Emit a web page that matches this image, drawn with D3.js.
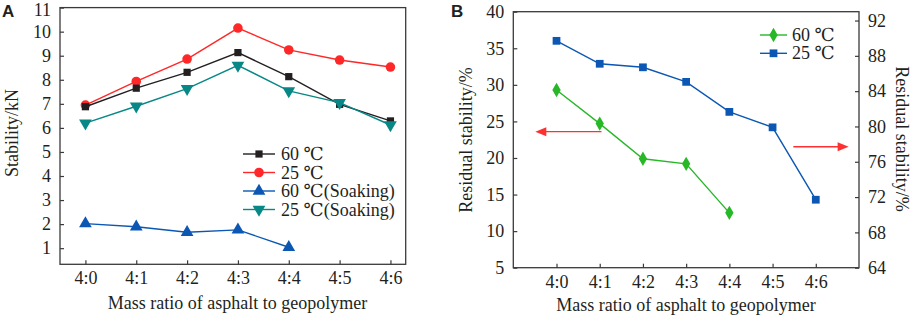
<!DOCTYPE html>
<html>
<head>
<meta charset="utf-8">
<script src="https://cdn.jsdelivr.net/npm/d3@7"></script>
<style>
  body { margin: 0; background: #fff; }
  svg text { font-family: "Liberation Serif", Tinos, "Times New Roman", "DejaVu Serif", serif; fill: #231f20; }
  svg text.panel-label { font-family: "Liberation Sans", Arial, sans-serif; font-weight: bold; }
</style>
</head>
<body>
<svg id="chart" width="913" height="317"></svg>
<script>
const ratios = ['4:0', '4:1', '4:2', '4:3', '4:4', '4:5', '4:6'];

// panel A : stability (kN)
const stab60 = [6.88, 7.65, 8.31, 9.13, 8.13, 6.98, 6.29];
const stab25 = [6.95, 7.93, 8.86, 10.15, 9.24, 8.82, 8.53];
const stab60Soak = [2.02, 1.89, 1.66, 1.76, 1.04];
const stab25Soak = [6.2, 6.9, 7.63, 8.6, 7.54, 7.05, 6.12];
const yTicksA = [1, 2, 3, 4, 5, 6, 7, 8, 9, 10, 11];

// panel B : residual stability (%)
const resid60 = [29.3, 24.7, 19.9, 19.2, 12.5];
const resid25 = [89.7, 87.1, 86.7, 85.05, 81.65, 79.9, 71.7];
const yTicksBL = [5, 10, 15, 20, 25, 30, 35, 40];
const yTicksBR = [64, 68, 72, 76, 80, 84, 88, 92];

const svg = d3.select('#chart');
const axisColor = '#3a3a3a';
const serif = '"Liberation Serif", Tinos, "Times New Roman", "DejaVu Serif", serif';
const fs = 18;

const drawFrame = (g, x0, x1, y0, y1) => {
    g.append('rect')
    .attr('x', x0).attr('y', y0)
    .attr('width', x1 - x0).attr('height', y1 - y0)
    .attr('fill', 'none')
    .attr('stroke', axisColor)
    .attr('stroke-width', 1.3);
};

const markerPath = (type, size) => d3.symbol().type(type).size(size)();

const drawSeries = (g, vals, xScale, yScale, color, symbol, size, rotate) => {
    const pts = vals.map((v, i) => [xScale(i), yScale(v)]);
    g.append('path')
    .attr('d', d3.line()(pts))
    .attr('fill', 'none')
    .attr('stroke', color)
    .attr('stroke-width', 1.4);
    g.selectAll(null).data(pts).enter().append('path')
    .attr('d', markerPath(symbol, size))
    .attr('transform', d => `translate(${d[0]},${d[1]})` + (rotate ? ` rotate(${rotate})` : ''))
    .attr('fill', color);
};

// ---------- Panel A ----------
const A = { left: 60, right: 405.7, top: 7.6, bottom: 264.3 };
const gA = svg.append('g');

const xA = d3.scaleLinear().domain([-0.5, 6.3]).range([A.left, A.right]);
const yA = d3.scaleLinear().domain([0.33, 11]).range([A.bottom, A.top]);

drawFrame(gA, A.left, A.right, A.top, A.bottom);

const xAxisA = d3.axisBottom(xA).tickValues(d3.range(ratios.length))
    .tickFormat(i => ratios[i]).tickSize(-4).tickPadding(7);
gA.append('g').attr('transform', `translate(0,${A.bottom})`).call(xAxisA)
    .call(s => s.select('.domain').remove());

const yAxisA = d3.axisLeft(yA).tickValues(yTicksA).tickSize(-4).tickPadding(9);
gA.append('g').attr('class', 'yA').attr('transform', `translate(${A.left},0)`).call(yAxisA)
    .call(s => s.select('.domain').remove());
// top label sits right at the edge
gA.select('.yA').selectAll('.tick text').filter(d => d === 11).attr('dy', '0.42em');

const triUp = d3.symbolTriangle;
drawSeries(gA, stab60Soak, xA, yA, '#0b57b3', triUp, 70, 0);
drawSeries(gA, stab25, xA, yA, '#ff2727', d3.symbolCircle, 72, 0);
drawSeries(gA, stab60, xA, yA, '#231f20', d3.symbolSquare, 52, 0);
drawSeries(gA, stab25Soak, xA, yA, '#078786', triUp, 70, 180);

gA.append('text')
    .attr('x', 237.5)
    .attr('y', 309)
    .attr('text-anchor', 'middle')
    .attr('font-size', fs)
    .text('Mass ratio of asphalt to geopolymer');

gA.append('text')
    .attr('transform', `translate(18,${133}) rotate(-90)`)
    .attr('text-anchor', 'middle')
    .attr('font-size', fs)
    .text('Stability/kN');

gA.append('text').attr('class', 'panel-label')
    .attr('x', 2).attr('y', 17).attr('font-size', 17).text('A');

const legendA = [
    { label: '60 ℃', color: '#231f20', symbol: d3.symbolSquare, size: 52, rot: 0 },
    { label: '25 ℃', color: '#ff2727', symbol: d3.symbolCircle, size: 72, rot: 0 },
    { label: '60 ℃(Soaking)', color: '#0b57b3', symbol: triUp, size: 70, rot: 0 },
    { label: '25 ℃(Soaking)', color: '#078786', symbol: triUp, size: 70, rot: 180 }
];
const legA = gA.append('g').selectAll('g').data(legendA).enter().append('g')
    .attr('transform', (d, i) => `translate(243,${154 + i * 18.5})`);
legA.append('line').attr('x1', 0).attr('x2', 32)
    .attr('stroke', d => d.color).attr('stroke-width', 1.4);
legA.append('path').attr('d', d => markerPath(d.symbol, d.size))
    .attr('transform', d => `translate(16,0) rotate(${d.rot})`)
    .attr('fill', d => d.color);
legA.append('text').attr('x', 38).attr('y', 6)
    .attr('font-size', fs).text(d => d.label);

// ---------- Panel B ----------
const B = { left: 513.3, right: 859, top: 11.7, bottom: 267.7 };
const gB = svg.append('g');

const xB = d3.scaleLinear().domain([-1, 7]).range([B.left, B.right]);
const yBL = d3.scaleLinear().domain([5, 40]).range([B.bottom, B.top]);
const yBR = d3.scaleLinear().domain([64, 93]).range([B.bottom, B.top]);

drawFrame(gB, B.left, B.right, B.top, B.bottom);

const xAxisB = d3.axisBottom(xB).tickValues(d3.range(ratios.length))
    .tickFormat(i => ratios[i]).tickSize(-4).tickPadding(8);
gB.append('g').attr('transform', `translate(0,${B.bottom})`).call(xAxisB)
    .call(s => s.select('.domain').remove());

gB.append('g').attr('transform', `translate(${B.left},0)`)
    .call(d3.axisLeft(yBL).tickValues(yTicksBL).tickSize(-4).tickPadding(9))
    .call(s => s.select('.domain').remove());

gB.append('g').attr('transform', `translate(${B.right},0)`)
    .call(d3.axisRight(yBR).tickValues(yTicksBR).tickSize(-4).tickPadding(9))
    .call(s => s.select('.domain').remove());

drawSeries(gB, resid25, xB, yBR, '#0b57b3', d3.symbolSquare, 60, 0);
drawSeries(gB, resid60, xB, yBL, '#27b827', d3.symbolDiamond, 60, 0);

// axis arrows
const arrow = (g, x1, x2, y) => {
    const dir = Math.sign(x2 - x1);
    g.append('line').attr('x1', x1).attr('x2', x2 - dir * 9).attr('y1', y).attr('y2', y)
        .attr('stroke', '#ff3030').attr('stroke-width', 1.4);
    g.append('path')
        .attr('d', `M${x2},${y} L${x2 - dir * 11},${y - 4.5} L${x2 - dir * 11},${y + 4.5} Z`)
        .attr('fill', '#ff3030');
};
arrow(gB, xB(1.04), xB(-0.49), yBL(23.6));
arrow(gB, xB(5.48), xB(6.76), yBR(77.7));

gB.append('text')
    .attr('x', 686)
    .attr('y', 311)
    .attr('text-anchor', 'middle')
    .attr('font-size', fs)
    .text('Mass ratio of asphalt to geopolymer');

gB.append('text')
    .attr('transform', `translate(472,${140}) rotate(-90)`)
    .attr('text-anchor', 'middle')
    .attr('font-size', fs)
    .text('Residual stability/%');

gB.append('text')
    .attr('transform', `translate(896,${139}) rotate(90)`)
    .attr('text-anchor', 'middle')
    .attr('font-size', fs)
    .text('Residual stability/%');

gB.append('text').attr('class', 'panel-label')
    .attr('x', 451).attr('y', 17).attr('font-size', 17).text('B');

const legendB = [
    { label: '60 ℃', color: '#27b827', symbol: d3.symbolDiamond, size: 60 },
    { label: '25 ℃', color: '#0b57b3', symbol: d3.symbolSquare, size: 60 }
];
const legB = gB.append('g').selectAll('g').data(legendB).enter().append('g')
    .attr('transform', (d, i) => `translate(760,${35 + i * 18.3})`);
legB.append('line').attr('x1', 0).attr('x2', 27)
    .attr('stroke', d => d.color).attr('stroke-width', 1.4);
legB.append('path').attr('d', d => markerPath(d.symbol, d.size))
    .attr('transform', 'translate(13.5,0)')
    .attr('fill', d => d.color);
legB.append('text').attr('x', 32).attr('y', 6)
    .attr('font-size', fs).text(d => d.label);

svg.selectAll('.tick').selectAll('text').attr('font-size', fs).attr('fill', '#231f20')
    .style('font-family', serif);
svg.selectAll('g').filter(function () { return this.hasAttribute('font-family'); })
    .attr('font-family', null).attr('font-size', null);
svg.selectAll('.tick line').attr('stroke', axisColor).attr('stroke-width', 1.2);
</script>
</body>
</html>
